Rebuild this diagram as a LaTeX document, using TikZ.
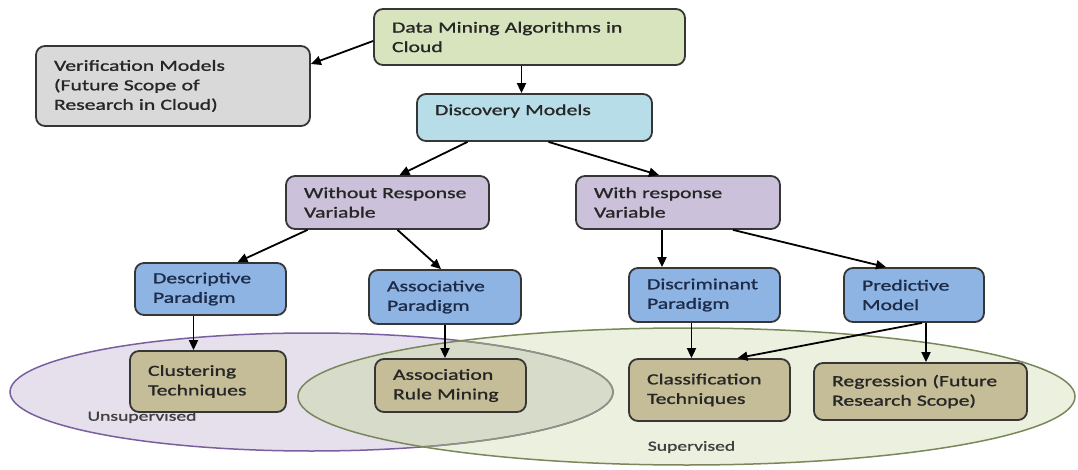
\documentclass[tikz,border=0pt]{standalone}
\usepackage{fontspec}
\setmainfont{Carlito}[FakeStretch=1.4, FakeBold=1.2]
\usetikzlibrary{arrows.meta}

\definecolor{dmfill}{HTML}{D7E4BD}
\definecolor{verfill}{HTML}{D9D9D9}
\definecolor{disfill}{HTML}{B7DEE8}
\definecolor{varfill}{HTML}{CCC1DA}
\definecolor{parfill}{HTML}{8EB4E3}
\definecolor{techfill}{HTML}{C4BD97}
\definecolor{boxline}{HTML}{363636}
\definecolor{txt}{HTML}{262626}
\definecolor{partxt}{HTML}{1C2B48}
\definecolor{lbltxt}{HTML}{404040}
\definecolor{unsupfill}{HTML}{E5E0EC}
\definecolor{unsupline}{HTML}{7A5FA0}
\definecolor{supfill}{HTML}{EBF1DE}
\definecolor{supline}{HTML}{7A875A}
\definecolor{bothfill}{HTML}{D7DBCA}
\definecolor{bothline}{HTML}{8F9480}

\newcommand\boxtxtfont{\fontsize{15.5}{19.5}\selectfont\hyphenpenalty=10000 }
\newcommand\lbltxtfont{\fontsize{14}{17}\selectfont}

\tikzset{
  box/.style={draw=boxline, line width=1.8pt, rounded corners=9pt, align=left,
    inner xsep=18pt, inner ysep=0pt, font=\boxtxtfont, text=txt},
  arr/.style={-{Triangle[length=10pt,width=9pt]}, line width=1.8pt, black},
  lbl/.style={font=\lbltxtfont, text=lbltxt, inner sep=0pt}
}

\begin{document}
\begin{tikzpicture}[x=1pt,y=-1pt]
  \useasboundingbox (0,0) rectangle (1078,470);
  % Ellipses
  \fill[unsupfill] (311.5,392) ellipse [x radius=301.5pt, y radius=59pt];
  \fill[supfill] (686.5,396.5) ellipse [x radius=388.5pt, y radius=68.5pt];
  \begin{scope}
    \clip (311.5,392) ellipse [x radius=301.5pt, y radius=59pt];
    \fill[bothfill] (686.5,396.5) ellipse [x radius=388.5pt, y radius=68.5pt];
  \end{scope}
  \draw[unsupline, line width=1.5pt] (311.5,392) ellipse [x radius=301.5pt, y radius=59pt];
  \begin{scope}
    \clip (686.5,396.5) ellipse [x radius=388.5pt, y radius=68.5pt];
    \draw[bothline, line width=1.5pt] (311.5,392) ellipse [x radius=301.5pt, y radius=59pt];
  \end{scope}
  \draw[supline, line width=1.5pt] (686.5,396.5) ellipse [x radius=388.5pt, y radius=68.5pt];
  % Labels
  \node[lbl] (unsup) at (142,417) {Unsupervised};
  \node[lbl] (sup) at (691.5,447) {Supervised};
  % Boxes
  \node[box, fill=dmfill, text width=275pt, minimum height=56pt] (dm) at (529.5,37) {Data Mining Algorithms in\\Cloud};
  \node[box, fill=verfill, text width=238pt, minimum height=80pt] (ver) at (173,86) {Verification Models\\(Future Scope of\\Research in Cloud)};
  \node[box, fill=disfill, text width=199pt, minimum height=47pt] (dis) at (534.5,117.5) {Discovery Models\vspace{13pt}};
  \node[box, fill=varfill, text width=167pt, minimum height=53pt] (wo) at (387.5,202.5) {Without Response\\Variable};
  \node[box, fill=varfill, text width=168pt, minimum height=53pt] (wi) at (678,202.5) {With response\\Variable};
  \node[box, fill=parfill, text=partxt, text width=115pt, minimum height=52pt] (desc) at (210.5,289) {Descriptive\\Paradigm};
  \node[box, fill=parfill, text=partxt, text width=116pt, minimum height=54pt] (asso) at (445,297) {Associative\\Paradigm};
  \node[box, fill=parfill, text=partxt, text width=115pt, minimum height=54pt] (discr) at (704.5,295) {Discriminant\\Paradigm};
  \node[box, fill=parfill, text=partxt, text width=104pt, minimum height=54pt] (pred) at (914,295) {Predictive\\Model};
  \node[box, fill=techfill, text width=120pt, minimum height=61pt] (clus) at (208,381.5) {Clustering\\Techniques};
  \node[box, fill=techfill, text width=115pt, minimum height=53pt] (arm) at (450.5,385.5) {Association\\Rule Mining};
  \node[box, fill=techfill, text width=125pt, minimum height=62pt] (cls) at (709.5,390) {Classification\\Techniques};
  \node[box, fill=techfill, text width=177pt, minimum height=57pt] (reg) at (920.5,391.5) {Regression (Future\\Research Scope)};
  % Arrows
  \draw[arr] ([yshift=-4pt]dm.west) -- ([yshift=22pt]ver.east);
  \draw[arr] ([xshift=-8pt]dm.south) -- ([xshift=-8pt]dm.south |- dis.north);
  \draw[arr] ([xshift=-67pt]dis.south) -- ([xshift=12pt]wo.north);
  \draw[arr] ([xshift=14pt]dis.south) -- ([xshift=-19pt]wi.north);
  \draw[arr] ([xshift=-80pt]wo.south) -- ([xshift=27pt]desc.north);
  \draw[arr] ([xshift=10pt]wo.south) -- ([xshift=-4pt]asso.north);
  \draw[arr] ([xshift=-16pt]wi.south) -- ([xshift=-16pt]wi.south |- discr.north);
  \draw[arr] ([xshift=55pt]wi.south) -- ([xshift=-28pt]pred.north);
  \draw[arr] ([xshift=-17pt]desc.south) -- ([xshift=-17pt]desc.south |- clus.north);
  \draw[arr] (asso.south) -- (asso.south |- arm.north);
  \draw[arr] ([xshift=-13pt]discr.south) -- ([xshift=-13pt]discr.south |- cls.north);
  \draw[arr] ([xshift=8pt]pred.south) -- ([xshift=28pt]cls.north);
  \draw[arr] ([xshift=12pt]pred.south) -- ([xshift=12pt]pred.south |- reg.north);
\end{tikzpicture}
\end{document}
